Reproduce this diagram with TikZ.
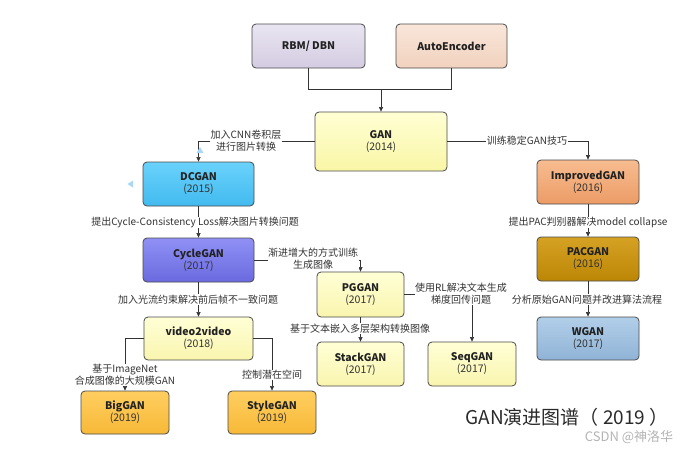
\documentclass[tikz,border=0pt]{standalone}
\usepackage{fontspec}
\setmainfont{Noto Sans CJK SC}
\usetikzlibrary{arrows.meta,shadings}
\definecolor{lineC}{HTML}{333333}
\definecolor{boxline}{HTML}{4A4A4A}
\definecolor{txt}{HTML}{222222}
\definecolor{yrC}{HTML}{333333}
\definecolor{rbmT}{HTML}{E9E5F1}\definecolor{rbmB}{HTML}{D4CCE2}
\definecolor{aeT}{HTML}{F9E6DA}\definecolor{aeB}{HTML}{F1D2BE}
\definecolor{ganT}{HTML}{FFFFD4}\definecolor{ganB}{HTML}{F9F6A6}
\definecolor{dcT}{HTML}{6AD2FB}\definecolor{dcB}{HTML}{42BAEF}
\definecolor{impT}{HTML}{F7BC90}\definecolor{impB}{HTML}{EC9C66}
\definecolor{cycT}{HTML}{9090F6}\definecolor{cycB}{HTML}{6A6ADF}
\definecolor{pacT}{HTML}{D6A224}\definecolor{pacB}{HTML}{BC8605}
\definecolor{wgT}{HTML}{B2CFE9}\definecolor{wgB}{HTML}{90B3D6}
\definecolor{lyT}{HTML}{FFFFD6}\definecolor{lyB}{HTML}{F9F5AE}
\definecolor{orT}{HTML}{FFCE60}\definecolor{orB}{HTML}{F7B937}
\definecolor{triC}{HTML}{A9D8F7}
\definecolor{titleC}{HTML}{2A2A2A}
\definecolor{wmC}{HTML}{B4B4B4}
\tikzset{
  gbox/.style={rounded corners=4pt, draw=boxline, line width=0.8pt, align=center,
    inner sep=0pt, font=\fontsize{10.5}{13}\selectfont, text=txt},
  conn/.style={draw=lineC, line width=0.6pt},
  arr/.style={conn, -{Triangle[length=4.5pt,width=4pt]}},
  lbl/.style={fill=white, inner sep=0.5pt, align=center, text=lineC,
    font=\fontsize{10}{12}\selectfont},
  shadebox/.style 2 args={top color=#1, bottom color=#2}
}
\newcommand{\boxtxt}[2]{\textbf{#1}\\[-1pt]{\color{yrC}#2}}
\begin{document}
\begin{tikzpicture}[x=1pt,y=-1pt]
\useasboundingbox (0,0) rectangle (693,448);
\fill[white] (0,0) rectangle (693,448);

% boxes
\node[gbox, shadebox={rbmT}{rbmB}, minimum width=113pt, minimum height=44pt] (rbm) at (308.5,46) {\textbf{RBM/ DBN}};
\node[gbox, shadebox={aeT}{aeB}, minimum width=111pt, minimum height=44pt] (ae) at (451.5,46) {\textbf{AutoEncoder}};
\node[gbox, shadebox={ganT}{ganB}, minimum width=132pt, minimum height=59pt] (gan) at (381,141.5) {\boxtxt{GAN}{(2014)}};
\node[gbox, shadebox={dcT}{dcB}, minimum width=111pt, minimum height=44pt] (dcgan) at (198.5,184) {\boxtxt{DCGAN}{(2015)}};
\node[gbox, shadebox={impT}{impB}, minimum width=102pt, minimum height=44pt] (imp) at (588,182) {\boxtxt{ImprovedGAN}{(2016)}};
\node[gbox, shadebox={cycT}{cycB}, minimum width=111pt, minimum height=44pt] (cyc) at (198.5,260) {\boxtxt{CycleGAN}{(2017)}};
\node[gbox, shadebox={pacT}{pacB}, minimum width=102pt, minimum height=44pt] (pac) at (588,259) {\boxtxt{PACGAN}{(2016)}};
\node[gbox, shadebox={wgT}{wgB}, minimum width=102pt, minimum height=43pt] (wgan) at (588,338.5) {\boxtxt{WGAN}{(2017)}};
\node[gbox, shadebox={lyT}{lyB}, minimum width=87pt, minimum height=45pt] (pg) at (360.5,294.5) {\boxtxt{PGGAN}{(2017)}};
\node[gbox, shadebox={lyT}{lyB}, minimum width=87pt, minimum height=44pt] (stack) at (360.5,364) {\boxtxt{StackGAN}{(2017)}};
\node[gbox, shadebox={lyT}{lyB}, minimum width=88pt, minimum height=44pt] (seq) at (472,364) {\boxtxt{SeqGAN}{(2017)}};
\node[gbox, shadebox={lyT}{lyB}, minimum width=109pt, minimum height=43pt] (v2v) at (198.5,338.5) {\boxtxt{video2video}{(2018)}};
\node[gbox, shadebox={orT}{orB}, minimum width=88pt, minimum height=43pt] (big) at (125,412.5) {\boxtxt{BigGAN}{(2019)}};
\node[gbox, shadebox={orT}{orB}, minimum width=88pt, minimum height=43pt] (style) at (272,412.5) {\boxtxt{StyleGAN}{(2019)}};

% merge into GAN
\coordinate (j) at (381,89);
\draw[conn] (rbm.south) |- (ae.south |- j) -- (ae.south);
\draw[arr] (j) -- (gan.north);

% connectors
\draw[arr] (gan.west |- 0,141) -| (dcgan.north);
\draw[arr] (gan.east |- 0,141) -| (imp.north);
\draw[arr] (dcgan.south) -- (cyc.north);
\draw[arr] (imp.south) -- (pac.north);
\draw[arr] (pac.south) -- (wgan.north);
\draw[arr] (cyc.east) -| (pg.north);
\draw[arr] (pg.east) -| (seq.north);
\draw[arr] (pg.south) -- (stack.north);
\draw[arr] (cyc.south) -- (v2v.north);
\draw[arr] (v2v.west) -| (big.north);
\draw[arr] (v2v.east) -| (style.north);

% labels
\node[lbl] (l1) at (246,141) {加入CNN卷积层\\进行图片转换};
\node[lbl] (l2) at (527,141) {训练稳定GAN技巧};
\node[lbl] (l3) at (195,222.5) {提出Cycle-Consistency Loss解决图片转换问题};
\node[lbl] (l4) at (588,222.5) {提出PAC判别器解决model collapse};
\node[lbl] (l5) at (587,299.5) {分析原始GAN问题并改进算法流程};
\node[lbl] (l6) at (313,259) {渐进增大的方式训练\\生成图像};
\node[lbl] (l7) at (461,294) {使用RL解决文本生成\\梯度回传问题};
\node[lbl] (l8) at (360,328.5) {基于文本嵌入多层架构转换图像};
\node[lbl] (l9) at (198,299.5) {加入光流约束解决前后帧不一致问题};
\node[lbl] (l10) at (125,375) {基于ImageNet\\合成图像的大规模GAN};
\node[lbl] (l11) at (272,375) {控制潜在空间};

% small artefact triangles
\fill[triC] (196.5,153) -- (203.5,153) -- (200,147) -- cycle;
\fill[triC] (133,180.5) -- (133,187.5) -- (127.5,184) -- cycle;

% title and watermark
\node[text=titleC, font=\fontsize{19}{22}\selectfont, inner sep=0pt] (title) at (567,417.5) {GAN演进图谱（ 2019 ）};
\node[text=wmC, font=\fontsize{13}{15}\selectfont, inner sep=0pt] (wm) at (629,437) {CSDN @神洛华};
\end{tikzpicture}
\end{document}
